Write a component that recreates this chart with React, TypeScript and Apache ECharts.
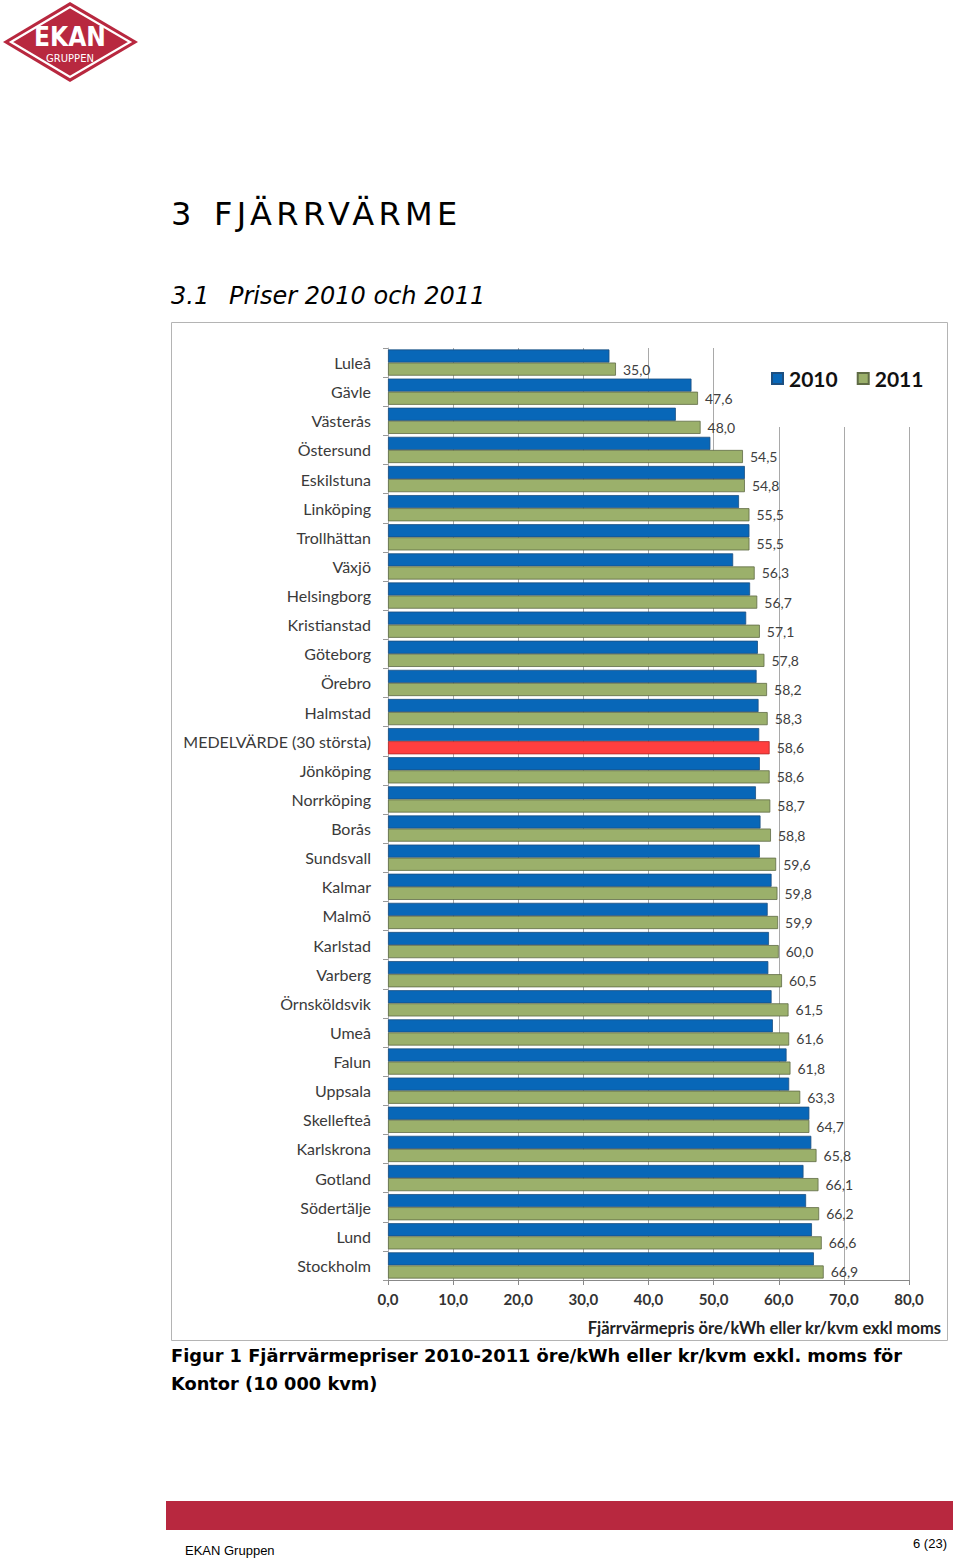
import React, { useEffect, useRef } from "react";
import * as echarts from "echarts";

const categories = [
  "Luleå", "Gävle", "Västerås", "Östersund", "Eskilstuna", "Linköping", "Trollhättan", "Växjö",
  "Helsingborg", "Kristianstad", "Göteborg", "Örebro", "Halmstad", "MEDELVÄRDE (30 största)",
  "Jönköping", "Norrköping", "Borås", "Sundsvall", "Kalmar", "Malmö", "Karlstad", "Varberg",
  "Örnsköldsvik", "Umeå", "Falun", "Uppsala", "Skellefteå", "Karlskrona", "Gotland",
  "Södertälje", "Lund", "Stockholm",
];

const values2010 = [
  34.0, 46.6, 44.2, 49.5, 54.8, 53.9, 55.5, 53.0, 55.6, 55.0, 56.8, 56.6, 56.9, 57.0, 57.1, 56.5,
  57.2, 57.1, 58.9, 58.3, 58.5, 58.4, 58.9, 59.1, 61.2, 61.6, 64.7, 65.0, 63.8, 64.2, 65.1, 65.4,
];

const values2011 = [
  35.0, 47.6, 48.0, 54.5, 54.8, 55.5, 55.5, 56.3, 56.7, 57.1, 57.8, 58.2, 58.3, 58.6, 58.6, 58.7,
  58.8, 59.6, 59.8, 59.9, 60.0, 60.5, 61.5, 61.6, 61.8, 63.3, 64.7, 65.8, 66.1, 66.2, 66.6, 66.9,
];

const seriesNames = ["2010", "2011"];
const highlightCategory = "MEDELVÄRDE (30 största)";

const BLUE = "#0867b8";
const GREEN = "#9bb06b";
const RED = "#ff3f3f";
const BRAND = "#b8283f";

const fmt = (v: number) => v.toFixed(1).replace(".", ",");

const headingStyle = (x: number, y: number, size: number, extra: any = {}) => ({
  position: "absolute" as const,
  left: x,
  top: y - size * 0.6,
  height: size * 1.2,
  lineHeight: `${size * 1.2}px`,
  fontSize: size,
  fontFamily: "'DejaVu Sans', sans-serif",
  color: "#000",
  whiteSpace: "nowrap" as const,
  margin: 0,
  ...extra,
});

export default function App() {
  const ref = useRef<HTMLDivElement>(null);

  useEffect(() => {
    if (!ref.current) return;
    const chart = echarts.init(ref.current, undefined, { renderer: "svg" });

    const data2011 = values2011.map((v, i) =>
      categories[i] === highlightCategory
        ? { value: v, itemStyle: { color: RED, borderColor: "#b02a2a" } }
        : v
    );

    const option: any = {
      animation: false,
      backgroundColor: "transparent",
      grid: { left: 388, right: 51, top: 348, bottom: 280, containLabel: false },
      legend: {
        data: seriesNames,
        left: 771,
        top: 368,
        padding: 0,
        icon: "rect",
        itemWidth: 11,
        itemHeight: 11,
        itemGap: 19,
        z: 10,
        textStyle: { fontFamily: "Lato", fontWeight: "bold", fontSize: 21, color: "#111", padding: [0, 0, 0, 1] },
      },
      xAxis: {
        type: "value",
        min: 0,
        max: 80,
        interval: 10,
        axisLine: { show: true, lineStyle: { color: "#888" } },
        axisTick: { show: true, length: 5, lineStyle: { color: "#888" } },
        axisLabel: {
          formatter: (v: number) => fmt(v),
          fontFamily: "Lato",
          fontWeight: "bold",
          fontSize: 15,
          color: "#333",
          margin: 11,
        },
        splitLine: { show: true, lineStyle: { color: "#a9a9a9", width: 1 } },
      },
      yAxis: {
        type: "category",
        data: categories,
        inverse: true,
        axisLine: { show: true, lineStyle: { color: "#b0b0b0" } },
        axisTick: { show: true, length: 5, lineStyle: { color: "#999" } },
        axisLabel: { fontFamily: "Lato", fontSize: 16, color: "#3a3a3a", margin: 17 },
      },
      series: [
        {
          name: seriesNames[0],
          type: "bar",
          data: values2010,
          barGap: "0%",
          barCategoryGap: "10%",
          itemStyle: { color: BLUE, borderColor: "#1d4f80", borderWidth: 0.8 },
        },
        {
          name: seriesNames[1],
          type: "bar",
          data: data2011,
          barGap: "0%",
          barCategoryGap: "10%",
          itemStyle: { color: GREEN, borderColor: "#5f6b45", borderWidth: 0.8 },
          label: {
            show: true,
            position: "right",
            distance: 7,
            formatter: (p: any) => fmt(p.value),
            fontFamily: "Lato",
            fontSize: 14,
            color: "#404040",
          },
        },
      ],
      graphic: [
        // logo
        { type: "polygon", shape: { points: [[3, 42], [70, 2], [138, 42], [70, 82]] }, style: { fill: BRAND } },
        { type: "polygon", shape: { points: [[11, 42], [70, 7], [130, 42], [70, 77]] }, style: { fill: "none", stroke: "#fff", lineWidth: 2.2 } },
        { type: "text", x: 70, y: 37, style: { text: "EKAN", fill: "#fff", font: "bold 26px 'DejaVu Sans Condensed'", textAlign: "center", textVerticalAlign: "middle" } },
        { type: "text", x: 70, y: 58, style: { text: "GRUPPEN", fill: "#fff", font: "10px 'DejaVu Sans'", textAlign: "center", textVerticalAlign: "middle" } },
        // chart frame
        { type: "rect", z: -1, shape: { x: 171.5, y: 322.5, width: 776, height: 1018 }, style: { fill: "none", stroke: "#b4b4b4", lineWidth: 1 } },
        // legend background (hides grid lines behind legend)
        { type: "rect", z: 1, shape: { x: 758, y: 345, width: 180, height: 82 }, style: { fill: "#fff" } },
        // axis title
        { type: "text", x: 941, y: 1328, style: { text: "Fjärrvärmepris öre/kWh eller kr/kvm exkl moms", fill: "#222", font: "bold 16.5px Lato", textAlign: "right", textVerticalAlign: "middle" } },
        // caption
        { type: "text", x: 171, y: 1355, style: { text: "Figur 1 Fjärrvärmepriser 2010-2011 öre/kWh eller kr/kvm exkl. moms för", fill: "#000", font: "bold 17.8px 'DejaVu Sans'", textVerticalAlign: "middle" } },
        { type: "text", x: 171, y: 1383, style: { text: "Kontor (10 000 kvm)", fill: "#000", font: "bold 17.8px 'DejaVu Sans'", textVerticalAlign: "middle" } },
        // footer
        { type: "rect", shape: { x: 166, y: 1501, width: 787, height: 29 }, style: { fill: BRAND } },
        { type: "text", x: 185, y: 1550, style: { text: "EKAN Gruppen", fill: "#000", font: "13px 'Liberation Sans'", textVerticalAlign: "middle" } },
        { type: "text", x: 947, y: 1543, style: { text: "6 (23)", fill: "#000", font: "13px 'Liberation Sans'", textAlign: "right", textVerticalAlign: "middle" } },
      ],
    };

    chart.setOption(option);
    return () => chart.dispose();
  }, []);

  return (
    <div style={{ position: "absolute", left: 0, top: 0, width: 960, height: 1560, background: "#fff" }}>
      <div ref={ref} style={{ position: "absolute", left: 0, top: 0, width: 960, height: 1560 }} />
      <div style={headingStyle(171, 214, 32)}>3</div>
      <div style={headingStyle(214, 214, 32, { letterSpacing: "4.4px" })}>FJÄRRVÄRME</div>
      <div style={headingStyle(171, 296, 24, { fontStyle: "italic" })}>3.1</div>
      <div style={headingStyle(229, 296, 24, { fontStyle: "italic" })}>Priser 2010 och 2011</div>
    </div>
  );
}
